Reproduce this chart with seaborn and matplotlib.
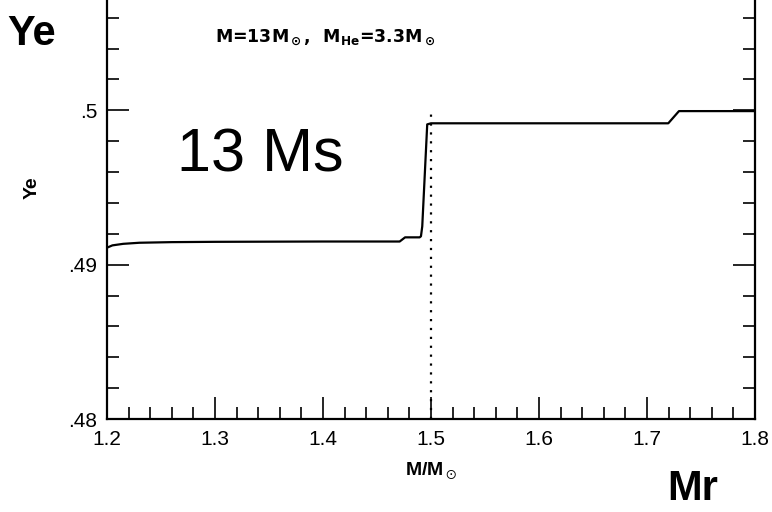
import matplotlib
matplotlib.use("Agg")
import matplotlib.pyplot as plt
from matplotlib.ticker import FixedLocator, MultipleLocator, FuncFormatter
import numpy as np
import pandas as pd
import seaborn as sns

# Electron fraction profile of the 13 Msun model core
mass_coord = [1.200, 1.205, 1.215, 1.230, 1.260, 1.300, 1.400, 1.471, 1.476,
              1.4895, 1.4907, 1.4919, 1.4965, 1.500, 1.7197, 1.7296, 1.800]
ye_values = [0.49110, 0.49125, 0.49135, 0.49142, 0.49146, 0.49148, 0.49150, 0.49150, 0.49177,
             0.49177, 0.49184, 0.49248, 0.49909, 0.49916, 0.49916, 0.49995, 0.49995]

x_ticks = [1.2, 1.3, 1.4, 1.5, 1.6, 1.7, 1.8]
y_ticks = [0.48, 0.49, 0.50, 0.51]
y_labeled = [0.48, 0.49, 0.50]
boundary_mass = 1.5
boundary_ye = [0.48, 0.50]

df = pd.DataFrame({"M": mass_coord, "Ye": ye_values})

sns.set_theme(style="ticks")
plt.rcParams["font.family"] = ["Liberation Sans", "DejaVu Sans"]
plt.rcParams["mathtext.default"] = "regular"
plt.rcParams["text.color"] = "black"
plt.rcParams["axes.labelcolor"] = "black"

fig = plt.figure(figsize=(7.72, 5.12), dpi=100)
ax = fig.add_axes([107 / 772, 93 / 512, 648 / 772, 463 / 512])

sns.lineplot(data=df, x="M", y="Ye", ax=ax, color="black", linewidth=1.6,
             estimator=None, sort=False)
ax.plot([boundary_mass, boundary_mass], boundary_ye, color="black",
        linewidth=1.6, linestyle=(0, (1, 3)))

ax.set_xlim(1.2, 1.8)
ax.set_ylim(0.48, 0.51)
ax.xaxis.set_major_locator(FixedLocator(x_ticks))
ax.xaxis.set_minor_locator(MultipleLocator(0.02))
ax.yaxis.set_major_locator(FixedLocator(y_ticks))
ax.yaxis.set_minor_locator(MultipleLocator(0.002))


def strip_zero(v, pos):
    if not any(abs(v - t) < 1e-9 for t in y_labeled):
        return ""
    s = f"{v:.2f}".rstrip("0")
    return s[1:] if s.startswith("0") else s


ax.yaxis.set_major_formatter(FuncFormatter(strip_zero))
ax.xaxis.set_major_formatter(FuncFormatter(lambda v, p: f"{v:.1f}"))

ax.tick_params(which="both", direction="in", top=True, right=True,
               width=1.2, colors="black", labelsize=15)
ax.tick_params(which="major", length=16)
ax.tick_params(which="minor", length=8.5)
ax.tick_params(axis="x", pad=8)
ax.tick_params(axis="y", pad=7)
for sp in ax.spines.values():
    sp.set_linewidth(1.6)
    sp.set_color("black")

ax.set_xlabel(r"M/M$_\odot$", fontsize=14, fontweight="bold", labelpad=8)
ax.set_ylabel("Ye", fontsize=14, fontweight="bold", labelpad=20)

fig.text(215 / 772, 1 - 43 / 512, r"M=13M$_\odot$,  M$_{He}$=3.3M$_\odot$",
         fontsize=12.5, fontweight="bold", family=["DejaVu Sans"], va="baseline")

fig.text(7 / 772, 1 - 45 / 512, "Ye", fontsize=30, fontweight="bold", va="baseline")
fig.text(177 / 772, 1 - 172 / 512, "13 Ms", fontsize=44, va="baseline")
fig.text(667 / 772, 1 - 500 / 512, "Mr", fontsize=30, fontweight="bold", va="baseline")

fig.savefig("out.png", dpi=100)
